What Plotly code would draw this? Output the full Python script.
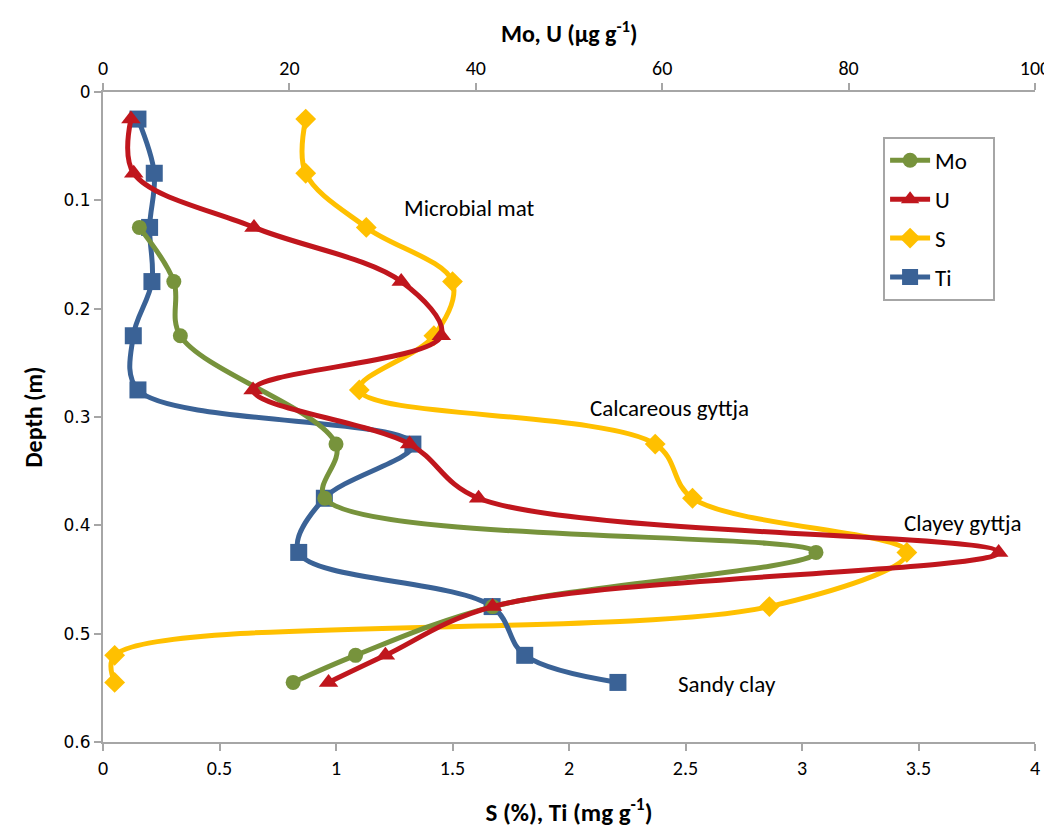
import plotly.graph_objects as go

# Data (depth in m)
depth = [0.025, 0.075, 0.125, 0.175, 0.225, 0.275, 0.325, 0.375, 0.425, 0.475, 0.52, 0.545]
depth_mo = [0.125, 0.175, 0.225, 0.325, 0.375, 0.425, 0.475, 0.52, 0.545]

mo = [3.9, 7.6, 8.3, 25.0, 23.8, 76.5, 41.8, 27.1, 20.4]              # µg/g (top axis)
u = [3.0, 3.3, 16.2, 32.0, 36.3, 16.1, 32.9, 40.3, 96.1, 41.8, 30.3, 24.2]  # µg/g (top axis)
s = [0.87, 0.87, 1.13, 1.50, 1.42, 1.10, 2.37, 2.53, 3.45, 2.86, 0.05, 0.05]  # % (bottom axis)
ti = [0.15, 0.22, 0.20, 0.21, 0.13, 0.15, 1.33, 0.95, 0.84, 1.67, 1.81, 2.21]  # mg/g (bottom axis)

labels = ["Microbial mat", "Calcareous gyttja", "Clayey gyttja", "Sandy clay"]
label_x = [1.57, 2.43, 3.69, 2.68]
label_y = [0.107, 0.292, 0.398, 0.546]

GREEN = "#77933C"
RED = "#C0161D"
YELLOW = "#FFC000"
BLUE = "#3A6296"
AXIS = "#A6A6A6"
FONT = "Carlito, Lato, sans-serif"

fig = go.Figure()
fig.add_trace(go.Scatter(x=mo, y=depth_mo, name="Mo&nbsp;&nbsp;&nbsp;&nbsp;", xaxis="x2", yaxis="y", legendgroup="mo",
                         mode="lines+markers", line=dict(color=GREEN, width=5, shape="spline", smoothing=1),
                         marker=dict(symbol="circle", size=15, color=GREEN)))
fig.add_trace(go.Scatter(x=u, y=depth, name="U", xaxis="x2", yaxis="y", legendgroup="u",
                         mode="lines+markers", line=dict(color=RED, width=5, shape="spline", smoothing=1),
                         marker=dict(symbol="triangle-up", size=17, color=RED)))
fig.add_trace(go.Scatter(x=s, y=depth, name="S", xaxis="x", yaxis="y", legendgroup="s",
                         mode="lines+markers", line=dict(color=YELLOW, width=5, shape="spline", smoothing=1),
                         marker=dict(symbol="diamond", size=16, color=YELLOW)))
fig.add_trace(go.Scatter(x=ti, y=depth, name="Ti", xaxis="x", yaxis="y", legendgroup="ti",
                         mode="lines+markers", line=dict(color=BLUE, width=5, shape="spline", smoothing=1),
                         marker=dict(symbol="square", size=17, color=BLUE)))

for t, xx, yy in zip(labels, label_x, label_y):
    fig.add_annotation(x=xx, y=yy, xref="x", yref="y", text=t, showarrow=False,
                       font=dict(family=FONT, size=23, color="#000000"))

# top axis title
fig.add_annotation(x=0.5, y=1.092, xref="paper", yref="paper", xanchor="center", yanchor="middle",
                   text="<b>Mo, U (µg g<sup>-1</sup>)</b>", showarrow=False,
                   font=dict(family=FONT, size=24, color="#000000"))

axis_common = dict(showline=True, linecolor=AXIS, linewidth=2, ticks="outside", ticklen=7,
                   tickcolor=AXIS, tickwidth=2, showgrid=False, zeroline=False, automargin=False)

fig.update_layout(
    width=1044, height=820,
    margin=dict(l=95, r=17, t=84, b=86, autoexpand=False),
    paper_bgcolor="white", plot_bgcolor="white",
    font=dict(family=FONT, size=20, color="#000000"),
    xaxis=dict(range=[0, 4], dtick=0.5, tick0=0,
               title=dict(text="<b>S (%), Ti (mg g<sup>-1</sup>)</b>", font=dict(size=25), standoff=24),
               **axis_common),
    xaxis2=dict(range=[0, 100], dtick=20, tick0=0, overlaying="x", side="top", anchor="y",
                **axis_common),
    yaxis=dict(range=[0.6, 0], dtick=0.1, tick0=0,
               title=dict(text="<b>Depth (m)</b>", font=dict(size=24), standoff=14),
               tickfont=dict(family="DejaVu Sans, sans-serif", size=17),
               **axis_common),
    legend=dict(x=0.837, y=0.931, xanchor="left", yanchor="top",
                bordercolor=AXIS, borderwidth=2, bgcolor="white",
                font=dict(family=FONT, size=23), tracegroupgap=6,
                itemwidth=40),
    showlegend=True,
)

fig.write_html("out.html")
